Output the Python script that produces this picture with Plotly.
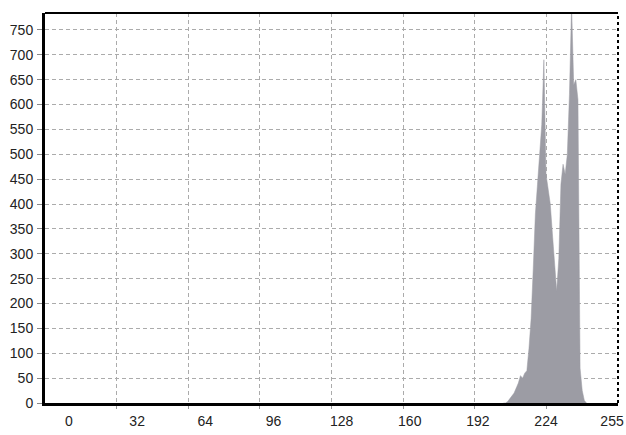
import plotly.graph_objects as go

# Histogram data (grey levels 0..255)
bins = list(range(204, 244))
counts = [0, 0, 3, 8, 14, 20, 30, 40, 55, 50,
          60, 65, 110, 170, 270, 380, 440, 500, 560, 690,
          460, 430, 400, 340, 280, 225, 290, 440, 480, 460,
          500, 620, 800, 640, 650, 610, 70, 25, 5, 0]

x_ticks = [0, 32, 64, 96, 128, 160, 192, 224, 255]
x_labels = ["0", "32", "64", "96", "128", "160", "192", "224", "255"]
y_ticks = list(range(0, 751, 50))
y_labels = [str(v) for v in y_ticks]

X_RANGE = [-11.27, 257.8]
Y_RANGE = [0, 784]
n_div = 8
grid_x = [X_RANGE[0] + k * (X_RANGE[1] - X_RANGE[0]) / n_div for k in range(1, n_div)]

FONT = "Liberation Sans, Arial, sans-serif"
GRID = "#ababab"

fig = go.Figure()
fig.add_trace(go.Scatter(
    x=bins, y=counts, mode="lines", line=dict(color="#9c9ca4", width=0.5),
    fill="tozeroy", fillcolor="#9c9ca4", hoverinfo="skip", showlegend=False,
))

fig.update_layout(
    width=626, height=435,
    margin=dict(l=45, r=8, t=13, b=32, autoexpand=False),
    paper_bgcolor="white", plot_bgcolor="white",
    font=dict(family=FONT, size=14, color="#222"),
    xaxis=dict(
        range=X_RANGE, tickvals=x_ticks, ticktext=x_labels,
        showgrid=False, zeroline=False, automargin=False,
        showline=True, linecolor="black", linewidth=3,
        ticks="", ticklabelstandoff=3, ticklabeloverflow="allow",
        minor=dict(tickvals=grid_x, showgrid=True, gridcolor=GRID,
                   griddash="4px,3px", gridwidth=1, ticks="outside",
                   ticklen=3, tickcolor="#999"),
    ),
    yaxis=dict(
        range=Y_RANGE, tickvals=y_ticks, ticktext=y_labels,
        showgrid=True, gridcolor=GRID, griddash="4px,3px", gridwidth=1,
        zeroline=False, showline=True, linecolor="black", linewidth=3,
        automargin=False, ticks="outside", ticklen=5, tickcolor="#888",
        ticklabelstandoff=1,
    ),
    shapes=[
        dict(type="line", xref="paper", yref="paper", x0=0, x1=1, y0=1, y1=1,
             line=dict(color="black", width=2)),
        dict(type="line", xref="paper", yref="paper", x0=1, x1=1, y0=0, y1=1,
             line=dict(color="black", width=2, dash="dot")),
    ],
)

fig.write_html(
    "out.html",
    config={"displayModeBar": False},
    post_script="document.body.style.margin='0';document.body.style.overflow='hidden';",
)
